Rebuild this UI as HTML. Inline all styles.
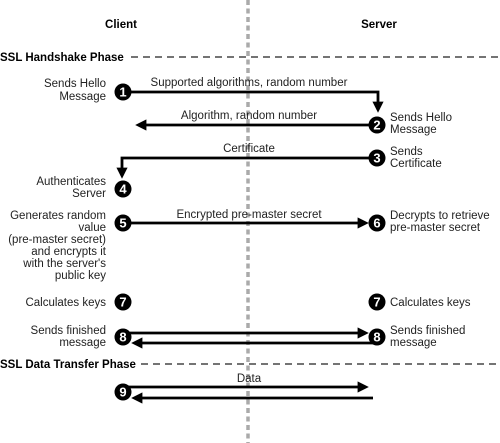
<!DOCTYPE html>
<html><head><style>body{margin:0;background:#fff}svg{display:block}</style></head><body>
<svg width="500" height="443" viewBox="0 0 500 443" xmlns="http://www.w3.org/2000/svg" font-family="Liberation Sans, sans-serif" font-size="11.5" fill="#222">
<defs>
<marker id="a" markerWidth="4" markerHeight="4" refX="3" refY="2" orient="auto" markerUnits="strokeWidth"><path d="M0,0 L4,2 L0,4 z" fill="#000"/></marker>
</defs>
<line x1="248" y1="0" x2="248" y2="443" stroke="#aaa" stroke-width="3.5" stroke-dasharray="5,3.5"/>
<g font-weight="bold" font-size="11.5" fill="#000">
<text x="121" y="28" text-anchor="middle">Client</text>
<text x="379" y="28" text-anchor="middle">Server</text>
<text x="0" y="61">SSL Handshake Phase</text>
<text x="0" y="368">SSL Data Transfer Phase</text>
</g>
<line x1="131" y1="57" x2="500" y2="57" stroke="#222" stroke-width="1.2" stroke-dasharray="7,5"/>
<line x1="141" y1="364" x2="500" y2="364" stroke="#222" stroke-width="1.2" stroke-dasharray="7,5"/>
<g stroke="#000" stroke-width="2.8" fill="none" marker-end="url(#a)">
<path d="M123,92 H378 V110"/>
<path d="M372,125 H138"/>
<path d="M372,158 H122 V176"/>
<path d="M123,223 H366"/>
<path d="M123,333 H366"/>
<path d="M377,343 H134"/>
<path d="M123,387 H366"/>
<path d="M373,398 H134"/>
</g>
<g font-weight="bold" font-size="13" text-anchor="middle">
<circle cx="123" cy="92" r="8.5" fill="#000"/><text x="123" y="96.5" fill="#fff">1</text>
<circle cx="377" cy="125" r="8.5" fill="#000"/><text x="377" y="129.5" fill="#fff">2</text>
<circle cx="377" cy="158" r="8.5" fill="#000"/><text x="377" y="162.5" fill="#fff">3</text>
<circle cx="123" cy="189" r="8.5" fill="#000"/><text x="123" y="193.5" fill="#fff">4</text>
<circle cx="123" cy="223" r="8.5" fill="#000"/><text x="123" y="227.5" fill="#fff">5</text>
<circle cx="377" cy="223" r="8.5" fill="#000"/><text x="377" y="227.5" fill="#fff">6</text>
<circle cx="123" cy="302" r="8.5" fill="#000"/><text x="123" y="306.5" fill="#fff">7</text>
<circle cx="377" cy="302" r="8.5" fill="#000"/><text x="377" y="306.5" fill="#fff">7</text>
<circle cx="123" cy="337" r="8.5" fill="#000"/><text x="123" y="341.5" fill="#fff">8</text>
<circle cx="377" cy="337" r="8.5" fill="#000"/><text x="377" y="341.5" fill="#fff">8</text>
<circle cx="123" cy="392" r="8.5" fill="#000"/><text x="123" y="396.5" fill="#fff">9</text>
</g>
<g text-anchor="middle">
<text x="249" y="86">Supported algorithms, random number</text>
<text x="249" y="119">Algorithm, random number</text>
<text x="249" y="152">Certificate</text>
<text x="249" y="218">Encrypted pre-master secret</text>
<text x="249" y="382">Data</text>
</g>
<g text-anchor="end">
<text x="106" y="87">Sends Hello</text><text x="106" y="100">Message</text>
<text x="106" y="185">Authenticates</text><text x="106" y="197">Server</text>
<text x="106" y="219">Generates random</text><text x="106" y="231">value</text>
<text x="106" y="243">(pre-master secret)</text><text x="106" y="255">and encrypts it</text>
<text x="106" y="267">with the server's</text><text x="106" y="279">public key</text>
<text x="106" y="306">Calculates keys</text>
<text x="106" y="334">Sends finished</text><text x="106" y="346">message</text>
</g>
<g>
<text x="390" y="121">Sends Hello</text><text x="390" y="133">Message</text>
<text x="390" y="155">Sends</text><text x="390" y="167">Certificate</text>
<text x="390" y="219">Decrypts to retrieve</text><text x="390" y="231">pre-master secret</text>
<text x="390" y="306">Calculates keys</text>
<text x="390" y="334">Sends finished</text><text x="390" y="346">message</text>
</g>
</svg>
</body></html>
